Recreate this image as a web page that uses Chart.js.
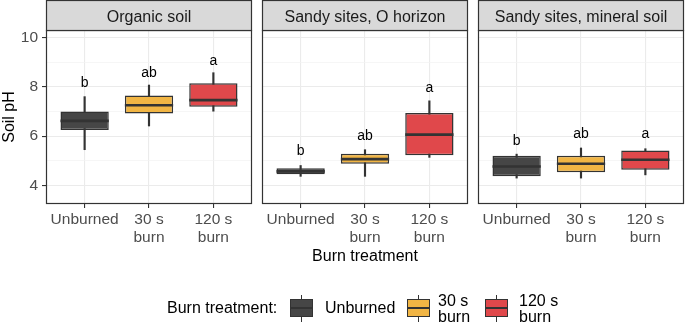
<!DOCTYPE html>
<html>
<head>
<meta charset="utf-8">
<script src="https://cdn.jsdelivr.net/npm/chart.js@4.4.1/dist/chart.umd.min.js"></script>
<style>
  body { margin: 0; background: #fff; width: 685px; height: 324px; position: relative; overflow: hidden;
         font-family: "Liberation Sans", Arial, sans-serif; }
  canvas { position: absolute; top: 0; }
  #xtitle { position: absolute; top: 248px; left: 46px; width: 638px; text-align: center;
            font-size: 16px; line-height: 1; color: #000; }
  #legend { position: absolute; left: 0; top: 0; width: 685px; height: 324px; font-size: 16px; line-height: 16px; color: #000; }
  #legend .lbl { position: absolute; white-space: nowrap; }
  .key { position: absolute; top: 295px; width: 23px; height: 27px; }
  .key .wh { position: absolute; left: 11px; width: 1.4px; top: 0; bottom: 0; background: #333; }
  .key .bx { position: absolute; left: 0; right: 0; top: 4px; height: 18px; box-sizing: border-box; border: 1.4px solid #333; }
  .key .md { position: absolute; left: 0; right: 0; top: 12px; height: 2px; background: #333; }
</style>
</head>
<body>
<canvas id="p0" width="254" height="250" style="left:0px"></canvas>
<canvas id="p1" width="208" height="250" style="left:261px"></canvas>
<canvas id="p2" width="208" height="250" style="left:477px"></canvas>
<div id="xtitle">Burn treatment</div>
<div id="legend"></div>
<script>
const panels = ['Organic soil', 'Sandy sites, O horizon', 'Sandy sites, mineral soil'];
const treatments = [['Unburned'], ['30 s', 'burn'], ['120 s', 'burn']];
const fillColors = ['#464646', '#f1b544', '#e0484b'];

// one row per panel, one value per treatment
const whiskerLow  = [[5.45, 6.41, 7.01], [4.37, 4.37, 5.14], [4.30, 4.30, 4.43]];
const boxLow      = [[6.25, 6.92, 7.19], [4.46, 4.88, 5.23], [4.37, 4.54, 4.64]];
const medians     = [[6.62, 7.25, 7.46], [4.57, 5.07, 6.06], [4.77, 4.88, 5.04]];
const boxHigh     = [[7.00, 7.65, 8.14], [4.70, 5.29, 6.94], [5.20, 5.20, 5.42]];
const whiskerHigh = [[7.60, 8.07, 8.57], [4.81, 5.45, 7.43], [5.27, 5.52, 5.49]];
const letters     = [['b', 'ab', 'a'], ['b', 'ab', 'a'], ['b', 'ab', 'a']];
const letterY     = [[8.00, 8.40, 8.89], [5.23, 5.84, 7.80], [5.63, 5.93, 5.93]];

const yMajor = [4, 6, 8, 10];
const yMinor = [5, 7, 9];

const FONT = '"Liberation Sans", Arial, sans-serif';

// strip, panel border and letters
const facetDecor = {
  id: 'facetDecor',
  afterDatasetsDraw(chart, args, opts) {
    const {ctx, chartArea: a, scales: {x, y}} = chart;
    ctx.save();
    ctx.font = '14px ' + FONT;
    ctx.fillStyle = '#000';
    ctx.textAlign = 'center';
    ctx.textBaseline = 'alphabetic';
    opts.letters.forEach((t, i) => {
      ctx.fillText(t, x.getPixelForValue(i + 1), y.getPixelForValue(opts.letterY[i]));
    });
    ctx.strokeStyle = '#333';
    ctx.lineWidth = 1.2;
    ctx.strokeRect(a.left + 0.5, a.top + 0.5, a.width - 1, a.height - 1);
    ctx.fillStyle = '#d9d9d9';
    ctx.fillRect(a.left + 0.5, 0.5, a.width - 1, a.top);
    ctx.strokeRect(a.left + 0.5, 0.5, a.width - 1, a.top);
    ctx.fillStyle = '#1a1a1a';
    ctx.font = '16px ' + FONT;
    ctx.fillText(opts.title, (a.left + a.right) / 2, a.top - 8.5);
    ctx.restore();
  }
};

function halfBox(chart) {
  const x = chart.scales.x;
  return 0.375 * (x.getPixelForValue(2) - x.getPixelForValue(1));
}

function makePanel(p) {
  const first = p === 0;
  const isMajor = v => yMajor.includes(v);
  new Chart(document.getElementById('p' + p), {
    type: 'bar',
    data: {
      datasets: [
        {
          type: 'line',
          data: medians[p].map((v, i) => ({x: i + 1, y: v})),
          showLine: false,
          pointStyle: 'line',
          pointRadius: c => halfBox(c.chart),
          pointBorderWidth: 2.6,
          pointBorderColor: '#333',
          order: 0
        },
        {
          data: boxLow[p].map((v, i) => ({x: i + 1, y: [v, boxHigh[p][i]]})),
          backgroundColor: fillColors,
          borderColor: '#333',
          borderWidth: 1.5,
          borderSkipped: false,
          grouped: false,
          barPercentage: 0.75,
          categoryPercentage: 1,
          order: 1
        },
        {
          data: whiskerLow[p].map((v, i) => ({x: i + 1, y: [v, whiskerHigh[p][i]]})),
          backgroundColor: '#333',
          barThickness: 1.5,
          grouped: false,
          order: 2
        }
      ]
    },
    options: {
      responsive: false,
      animation: false,
      events: [],
      layout: {padding: {top: 30, left: first ? 0 : 1, right: first ? 2 : 1, bottom: 0}},
      scales: {
        x: {
          type: 'linear',
          min: 0.4,
          max: 3.6,
          offset: false,
          afterBuildTicks: s => { s.ticks = [1, 2, 3].map(v => ({value: v})); },
          afterFit: s => { s.height = 46; },
          ticks: {
            callback: v => treatments[v - 1],
            autoSkip: false,
            maxRotation: 0,
            padding: 2,
            color: '#4d4d4d',
            font: {size: 15.5, family: FONT, lineHeight: 1.2}
          },
          grid: {offset: false, color: '#ebebeb', lineWidth: 1.1, tickColor: '#333', tickLength: 4},
          border: {display: false}
        },
        y: {
          min: 3.25,
          max: 10.3,
          afterBuildTicks: s => { s.ticks = yMajor.concat(yMinor).sort((a, b) => a - b).map(v => ({value: v})); },
          afterFit: s => { s.width = first ? 46 : 0; },
          ticks: {
            display: first,
            callback: v => isMajor(v) ? String(v) : '',
            padding: 4,
            color: '#4d4d4d',
            font: {size: 15.5, family: FONT}
          },
          grid: {
            drawTicks: first,
            color: c => isMajor(c.tick.value) ? '#ebebeb' : '#f2f2f2',
            lineWidth: c => isMajor(c.tick.value) ? 1.1 : 0.7,
            tickColor: c => isMajor(c.tick.value) ? '#333' : 'rgba(0,0,0,0)',
            tickLength: 4
          },
          border: {display: false},
          title: {
            display: first,
            text: 'Soil pH',
            color: '#000',
            padding: {top: 0, bottom: 0},
            font: {size: 16, family: FONT}
          }
        }
      },
      plugins: {
        legend: {display: false},
        tooltip: {enabled: false},
        facetDecor: {title: panels[p], letters: letters[p], letterY: letterY[p]}
      }
    },
    plugins: [facetDecor]
  });
}

[0, 1, 2].forEach(makePanel);

// legend (HTML)
const legend = document.getElementById('legend');
const keyX = [290, 407, 485];
const labelX = [325, 438, 519];
const title = document.createElement('div');
title.className = 'lbl';
title.style.left = '167px';
title.style.top = '300px';
title.textContent = 'Burn treatment:';
legend.appendChild(title);
treatments.forEach((lines, i) => {
  const k = document.createElement('div');
  k.className = 'key';
  k.style.left = keyX[i] + 'px';
  k.innerHTML = '<div class="wh"></div><div class="bx" style="background:' + fillColors[i] + '"></div><div class="md"></div>';
  legend.appendChild(k);
  const l = document.createElement('div');
  l.className = 'lbl';
  l.style.left = labelX[i] + 'px';
  l.style.top = (lines.length > 1 ? 292.5 : 300) + 'px';
  l.innerHTML = lines.join('<br>');
  legend.appendChild(l);
});
</script>
</body>
</html>
